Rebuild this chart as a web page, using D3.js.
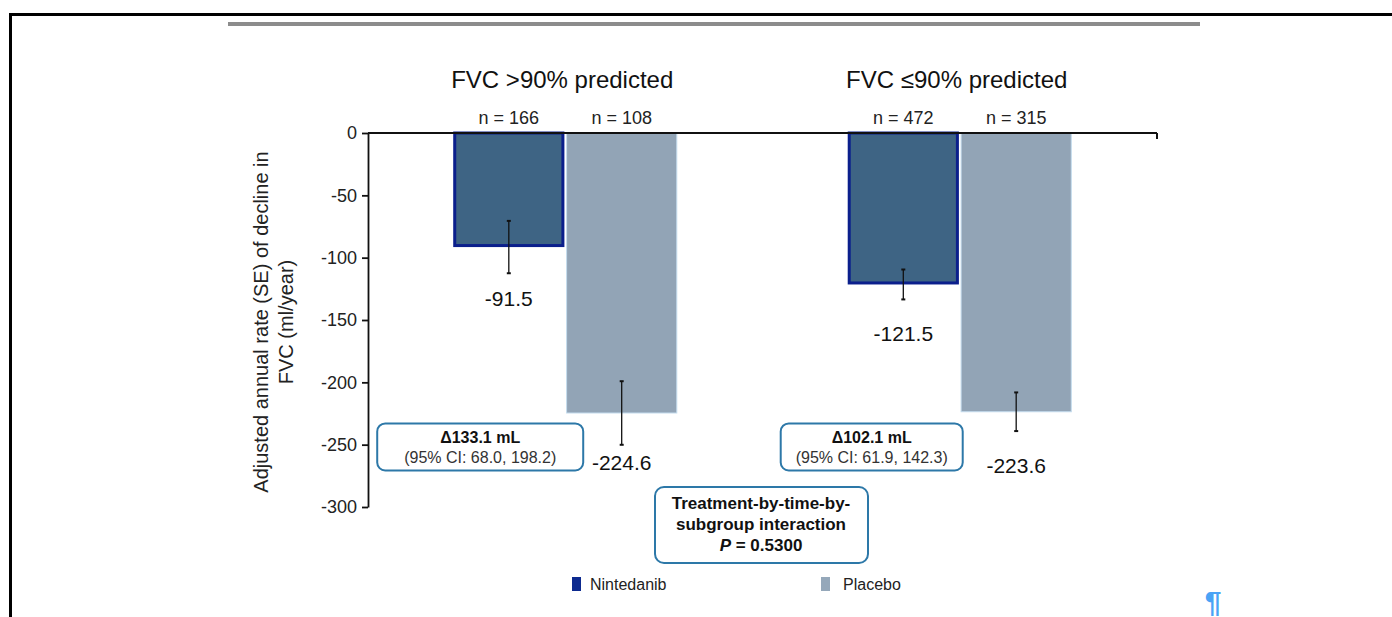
<!DOCTYPE html>
<html>
<head>
<meta charset="utf-8">
<script src="https://cdn.jsdelivr.net/npm/d3@7"></script>
<style>
  body { margin: 0; background: #fff; overflow: hidden; }
  svg { display: block; font-family: "Liberation Sans", Arial, sans-serif; }
</style>
</head>
<body>
<div id="chart"></div>
<script>
// Data
const groups = ["FVC >90% predicted", "FVC ≤90% predicted"];
const series = ["Nintedanib", "Placebo"];
const nintedanib = [-91.5, -121.5];
const placebo = [-224.6, -223.6];
const nintedanibSE = [21, 12];
const placeboSE = [25.5, 15.5];
const nintedanibN = [166, 472];
const placeboN = [108, 315];
const deltaLabels = ["Δ133.1 mL", "Δ102.1 mL"];
const ciLabels = ["(95% CI: 68.0, 198.2)", "(95% CI: 61.9, 142.3)"];
const yTicks = [0, -50, -100, -150, -200, -250, -300];

// layout: gap (px) between the end of each error bar and its value label
const nintedanibLabelGap = [33, 42];
const placeboLabelGap = [25, 42];

const colors = { "Nintedanib": "#3e6484", "Placebo": "#92a4b6" };
const strokes = { "Nintedanib": "#0b1f8c", "Placebo": "#c4dcee" };

const W = 1392, H = 617;
const svg = d3.select("#chart").append("svg").attr("width", W).attr("height", H);

// page frame and rule
svg.append("rect").attr("x", 10.5).attr("y", 14.5).attr("width", W + 20).attr("height", H + 20)
  .attr("fill", "none").attr("stroke", "#000").attr("stroke-width", 3);
svg.append("line").attr("x1", 228).attr("x2", 1200).attr("y1", 24).attr("y2", 24)
  .attr("stroke", "#8c8c8c").attr("stroke-width", 4);

const plotL = 368, plotR = 1157, plotT = 133, plotB = 507;

const y = d3.scaleLinear().domain([-300, 0]).range([plotB, plotT]);
const x0 = d3.scaleBand().domain(groups).range([plotL, plotR]).paddingInner(0.432).paddingOuter(0.216);
const x1 = d3.scaleBand().domain(series).range([0, x0.bandwidth()]).paddingInner(0.015);

const rows = groups.map((g, i) => ({
  group: g, i,
  bars: [
    { s: "Nintedanib", v: nintedanib[i], se: nintedanibSE[i], n: nintedanibN[i], gap: nintedanibLabelGap[i] },
    { s: "Placebo", v: placebo[i], se: placeboSE[i], n: placeboN[i], gap: placeboLabelGap[i] }
  ]
}));

// y axis
const yAxis = svg.append("g").attr("transform", `translate(${plotL},0)`)
  .call(d3.axisLeft(y).tickValues(yTicks).tickSize(6).tickSizeOuter(0).tickFormat(d => String(d)));
yAxis.select(".domain").attr("stroke", "#111").attr("stroke-width", 1.8);
yAxis.selectAll(".tick line").attr("stroke", "#111").attr("stroke-width", 1.8);
yAxis.selectAll(".tick text").attr("font-size", 18).attr("fill", "#222").attr("x", -11)
  .attr("font-family", "Liberation Sans, Arial, sans-serif");

svg.append("text")
  .attr("transform", `translate(268,${(plotT + plotB) / 2 + 2}) rotate(-90)`)
  .attr("text-anchor", "middle").attr("font-size", 20).attr("fill", "#222")
  .selectAll("tspan").data(["Adjusted annual rate (SE) of decline in", "FVC (ml/year)"]).join("tspan")
  .attr("x", 0).attr("dy", (d, i) => i === 0 ? 0 : 25).text(d => d);

// bars
const gGroups = svg.selectAll(".grp").data(rows).join("g").attr("class", "grp")
  .attr("transform", d => `translate(${x0(d.group)},0)`);

gGroups.selectAll("rect.bar").data(d => d.bars).join("rect").attr("class", "bar")
  .attr("x", d => x1(d.s) + (d.s === "Nintedanib" ? 1.5 : 0.5))
  .attr("y", y(0))
  .attr("width", d => x1.bandwidth() - (d.s === "Nintedanib" ? 3 : 1))
  .attr("height", d => y(d.v) - y(0) - (d.s === "Nintedanib" ? 1.5 : 0))
  .attr("fill", d => colors[d.s])
  .attr("stroke", d => strokes[d.s])
  .attr("stroke-width", d => d.s === "Nintedanib" ? 3 : 1);

// zero line with end tick
svg.append("line").attr("x1", plotL).attr("x2", plotR).attr("y1", y(0)).attr("y2", y(0))
  .attr("stroke", "#111").attr("stroke-width", 2);
svg.append("line").attr("x1", plotR).attr("x2", plotR).attr("y1", y(0)).attr("y2", y(0) + 6)
  .attr("stroke", "#111").attr("stroke-width", 2);

// error bars
const eb = gGroups.selectAll("g.err").data(d => d.bars).join("g").attr("class", "err")
  .attr("transform", d => `translate(${x1(d.s) + x1.bandwidth() / 2},0)`);
eb.append("line").attr("y1", d => y(d.v + d.se)).attr("y2", d => y(d.v - d.se))
  .attr("stroke", "#111").attr("stroke-width", 1.3);
eb.append("line").attr("x1", -2).attr("x2", 2).attr("y1", d => y(d.v + d.se)).attr("y2", d => y(d.v + d.se))
  .attr("stroke", "#111").attr("stroke-width", 2);
eb.append("line").attr("x1", -2).attr("x2", 2).attr("y1", d => y(d.v - d.se)).attr("y2", d => y(d.v - d.se))
  .attr("stroke", "#111").attr("stroke-width", 2);

// value labels
eb.append("text").attr("text-anchor", "middle").attr("font-size", 21).attr("fill", "#111")
  .attr("y", d => y(d.v - d.se) + d.gap).text(d => d.v.toFixed(1));

// n labels
eb.append("text").attr("text-anchor", "middle").attr("font-size", 18).attr("fill", "#222")
  .attr("y", y(0) - 9).text(d => "n = " + d.n);

// group titles
gGroups.append("text").attr("x", x0.bandwidth() / 2 - 3).attr("y", 88)
  .attr("text-anchor", "middle").attr("font-size", 24).attr("fill", "#111").text(d => d.group);

// difference boxes
const boxes = gGroups.append("g")
  .attr("transform", (d, i) => `translate(${i === 0 ? -76 : -67},${y(-233)})`);
boxes.append("rect").attr("width", (d, i) => i === 0 ? 206 : 182).attr("height", 47)
  .attr("rx", 8).attr("fill", "#fff").attr("stroke", "#2d78a8").attr("stroke-width", 2);
boxes.append("text").attr("x", (d, i) => i === 0 ? 103 : 91).attr("y", 20)
  .attr("text-anchor", "middle").attr("font-size", 16).attr("font-weight", "bold").attr("fill", "#111")
  .text(d => deltaLabels[d.i]);
boxes.append("text").attr("x", (d, i) => i === 0 ? 103 : 91).attr("y", 40)
  .attr("text-anchor", "middle").attr("font-size", 16).attr("fill", "#333")
  .text(d => ciLabels[d.i]);

// interaction box
const ib = svg.append("g").attr("transform", "translate(655,487)");
ib.append("rect").attr("width", 213).attr("height", 76).attr("rx", 9)
  .attr("fill", "#fff").attr("stroke", "#2d78a8").attr("stroke-width", 2);
const ibText = ib.append("text").attr("text-anchor", "middle").attr("font-size", 17)
  .attr("font-weight", "bold").attr("fill", "#111");
ibText.append("tspan").attr("x", 106).attr("y", 22).text("Treatment-by-time-by-");
ibText.append("tspan").attr("x", 106).attr("y", 43).text("subgroup interaction");
const pLine = ibText.append("tspan").attr("x", 106).attr("y", 64);
pLine.append("tspan").attr("font-style", "italic").text("P");
pLine.append("tspan").text(" = 0.5300");

// legend
const legendX = [572, 821];
const lg = svg.selectAll(".lg").data(series).join("g").attr("class", "lg")
  .attr("transform", (d, i) => `translate(${legendX[i]},577)`);
lg.append("rect").attr("width", 9).attr("height", 14)
  .attr("fill", d => d === "Nintedanib" ? "#0d2a8f" : "#95a8ba");
lg.append("text").attr("x", d => d === "Nintedanib" ? 18 : 22).attr("y", 13)
  .attr("font-size", 16).attr("fill", "#222").text(d => d);

// pilcrow
svg.append("text").attr("x", 1213).attr("y", 612).attr("text-anchor", "middle")
  .attr("font-size", 30).attr("font-weight", "bold").attr("fill", "#4aa3f5").text("¶");
</script>
</body>
</html>
